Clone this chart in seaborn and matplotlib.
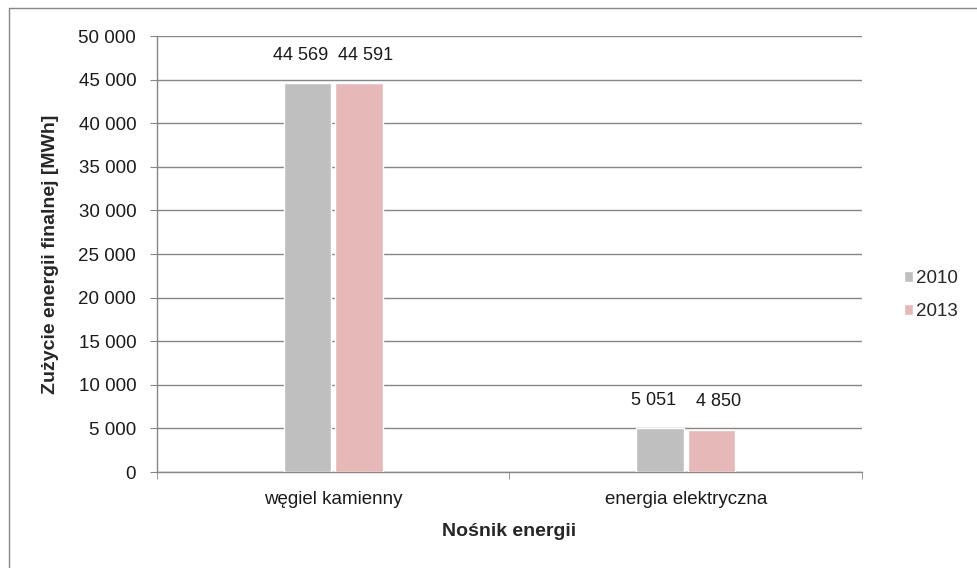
import pandas as pd
import seaborn as sns
import matplotlib.pyplot as plt
from matplotlib.lines import Line2D
from matplotlib.ticker import FuncFormatter, FixedLocator

# Data
carriers = ["węgiel kamienny", "energia elektryczna"]
years = ["2010", "2013"]
values_2010 = [44569, 5051]
values_2013 = [44591, 4850]

df = pd.DataFrame({
    "Nośnik": carriers * 2,
    "Rok": [years[0]] * 2 + [years[1]] * 2,
    "MWh": values_2010 + values_2013,
})

sns.set_style("white")
plt.rcParams["font.family"] = ["Liberation Sans", "DejaVu Sans"]

fig = plt.figure(figsize=(9.78, 5.68), dpi=100)
ax = fig.add_axes([0.1605, 0.169, 0.7209, 0.7676])

palette = {"2010": "#bfbfbf", "2013": "#e6b9b8"}
sns.barplot(data=df, x="Nośnik", y="MWh", hue="Rok", palette=palette,
            width=0.292, gap=0.07, ax=ax, zorder=3, saturation=1)

fmt = lambda v: f"{int(v):,}".replace(",", " ")

# value labels above bars, nudged apart like in the original
for cont, dx in zip(ax.containers, [-5, 5]):
    for b in cont:
        ax.annotate(fmt(b.get_height()),
                    (b.get_x() + b.get_width() / 2, b.get_height()),
                    xytext=(dx, 14), textcoords="offset points",
                    ha="center", va="bottom", fontsize=13, color="#1a1a1a")

ax.set_ylim(0, 50000)
ax.set_xlim(-0.5, 1.5)
ax.set_yticks(range(0, 50001, 5000))
ax.yaxis.set_major_formatter(FuncFormatter(lambda v, p: fmt(v)))
ax.grid(axis="y", color="#868686", linewidth=1, zorder=0)
ax.set_axisbelow(True)

for s in ["top", "right"]:
    ax.spines[s].set_visible(False)
for s in ["left", "bottom"]:
    ax.spines[s].set_color("#868686")
    ax.spines[s].set_linewidth(1)

ax.tick_params(axis="y", which="major", left=True, length=5, color="#868686",
               labelsize=13.5, labelcolor="#1a1a1a", pad=10)
ax.tick_params(axis="x", which="major", bottom=False, labelsize=13.5,
               labelcolor="#1a1a1a", pad=10)
ax.xaxis.set_minor_locator(FixedLocator([-0.5, 0.5, 1.5]))
ax.tick_params(axis="x", which="minor", bottom=True, length=5, color="#868686")

ax.set_xlabel("Nośnik energii", fontsize=14, fontweight="bold", labelpad=11)
ax.set_ylabel("Zużycie energii finalnej [MWh]", fontsize=14, fontweight="bold",
              labelpad=14)

leg = ax.legend(title=None, loc="center left", bbox_to_anchor=(1.035, 0.405),
                frameon=False, fontsize=13.5, handlelength=0.5,
                handleheight=0.5, handletextpad=0.15, labelspacing=0.85)

# outer chart frame (left and top edges visible)
fig.add_artist(Line2D([9 / 978, 9 / 978], [0, 1 - 8 / 568], color="#888888", lw=1))
fig.add_artist(Line2D([9 / 978, 1], [1 - 8 / 568, 1 - 8 / 568], color="#888888", lw=1))

fig.savefig("out.png", dpi=100, facecolor="white")
